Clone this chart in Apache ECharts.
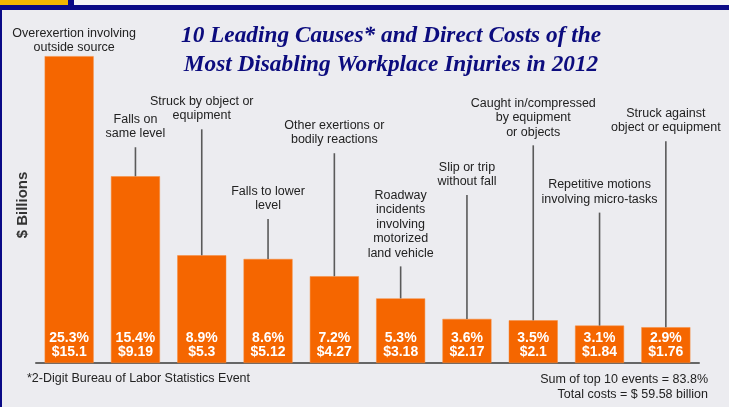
<!DOCTYPE html>
<html>
<head>
<meta charset="utf-8">
<style>
  html, body { margin: 0; padding: 0; background: #ececf0; }
  #chart { width: 729px; height: 407px; }
</style>
<script src="https://cdn.jsdelivr.net/npm/echarts@6/dist/echarts.min.js"></script>
</head>
<body>
<div id="chart"></div>
<script>
// 10 leading causes, direct costs ($ billions) and share of total
const categories = [
    'Overexertion involving\noutside source',
    'Falls on\nsame level',
    'Struck by object or\nequipment',
    'Falls to lower\nlevel',
    'Other exertions or\nbodily reactions',
    'Roadway\nincidents\ninvolving\nmotorized\nland vehicle',
    'Slip or trip\nwithout fall',
    'Caught in/compressed\nby equipment\nor objects',
    'Repetitive motions\ninvolving micro-tasks',
    'Struck against\nobject or equipment'
];
const costs = [15.1, 9.19, 5.3, 5.12, 4.27, 3.18, 2.17, 2.1, 1.84, 1.76];
const shares = ['25.3%', '15.4%', '8.9%', '8.6%', '7.2%', '5.3%', '3.6%', '3.5%', '3.1%', '2.9%'];
const costLabels = ['$15.1', '$9.19', '$5.3', '$5.12', '$4.27', '$3.18', '$2.17', '$2.1', '$1.84', '$1.76'];

// leader line length above each bar (px)
const leaderLen = [0, 29, 126, 40, 123, 32, 124, 175, 113, 186];

const chart = echarts.init(document.getElementById('chart'));

chart.setOption({
    backgroundColor: '#ececf0',
    animation: false,
    textStyle: { fontFamily: 'Liberation Sans, Arial, sans-serif' },
    grid: { left: 36, right: 30, top: 47, bottom: 44 },
    graphic: [
        // frame decoration
        { type: 'rect', shape: { x: 0, y: 0, width: 729, height: 5 }, style: { fill: '#f4f4f6' } },
        { type: 'rect', shape: { x: 0, y: 0, width: 68, height: 5 }, style: { fill: '#f2b600' } },
        { type: 'rect', shape: { x: 68, y: 0, width: 6, height: 5 }, style: { fill: '#0a0a86' } },
        { type: 'rect', shape: { x: 0, y: 5, width: 729, height: 5 }, style: { fill: '#0a0a86' } },
        { type: 'rect', shape: { x: 0, y: 5, width: 2, height: 402 }, style: { fill: '#0a0a86' } },
        {
            type: 'text', left: 181, top: 21,
            style: {
                text: '10 Leading Causes* and Direct Costs of the\nMost Disabling Workplace Injuries in 2012',
                font: 'italic bold 23.3px "Liberation Serif", serif',
                fill: '#0c0c7e', lineHeight: 29, textAlign: 'center'
            }
        },
        {
            type: 'text', left: 27, top: 372,
            style: { text: '*2-Digit Bureau of Labor Statistics Event', font: '12.5px "Liberation Sans", sans-serif', fill: '#222' }
        },
        {
            type: 'text', right: 21, top: 372,
            style: {
                text: 'Sum of top 10 events = 83.8%\nTotal costs = $ 59.58 billion',
                font: '12.5px "Liberation Sans", sans-serif', fill: '#222', lineHeight: 15, textAlign: 'right'
            }
        }
    ],
    xAxis: {
        type: 'category',
        data: categories,
        axisLine: { lineStyle: { color: '#666', width: 2 } },
        axisTick: { show: false },
        axisLabel: { show: false }
    },
    yAxis: {
        type: 'value',
        min: 0,
        max: 15.55,
        name: '$ Billions',
        nameLocation: 'middle',
        nameGap: 6,
        nameTextStyle: { fontSize: 15, fontWeight: 'bold', color: '#333' },
        axisLine: { show: false },
        axisTick: { show: false },
        axisLabel: { show: false },
        splitLine: { show: false }
    },
    series: [
        {
            type: 'bar',
            data: costs,
            barWidth: 49,
            itemStyle: { color: '#f56600', borderColor: '#f78a3a', borderWidth: 0.5 },
            label: {
                show: true,
                position: 'insideBottom',
                distance: 4,
                color: '#fff',
                fontSize: 14,
                fontWeight: 'bold',
                lineHeight: 14,
                formatter: p => shares[p.dataIndex] + '\n' + costLabels[p.dataIndex]
            }
        },
        {
            type: 'custom',
            data: costs.map((v, i) => [i, v]),
            z: 5,
            renderItem(params, api) {
                const i = api.value(0);
                const p = api.coord([i, api.value(1)]);
                const len = leaderLen[i];
                const top = p[1] - len;
                const children = [];
                if (len > 0) {
                    children.push({
                        type: 'line',
                        shape: { x1: p[0], y1: p[1], x2: p[0], y2: top },
                        style: { stroke: '#5a5a5a', lineWidth: 1.6 }
                    });
                }
                children.push({
                    type: 'text',
                    x: p[0] + (len > 0 ? 0 : 5),
                    y: top - (len > 0 ? 6 : 1),
                    style: {
                        text: categories[i],
                        font: '12.5px "Liberation Sans", sans-serif',
                        fill: '#222',
                        lineHeight: 14.5,
                        align: 'center',
                        verticalAlign: 'bottom'
                    }
                });
                return { type: 'group', children };
            }
        }
    ]
});
</script>
</body>
</html>
